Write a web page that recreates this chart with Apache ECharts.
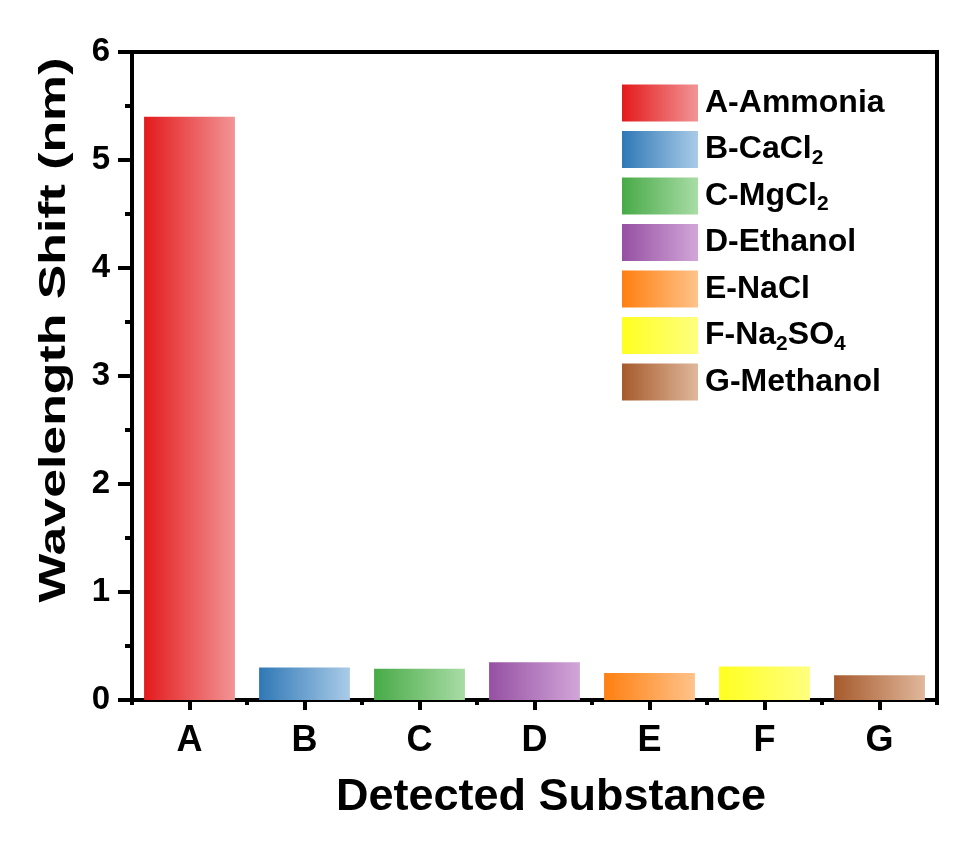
<!DOCTYPE html>
<html>
<head>
<meta charset="utf-8">
<title>Wavelength Shift</title>
<script src="https://cdn.jsdelivr.net/npm/echarts@6/dist/echarts.min.js"></script>
<style>
  html, body { margin: 0; padding: 0; background: #fff; }
  #chart { width: 969px; height: 851px; }
</style>
</head>
<body>
<div id="chart"></div>
<script>
// categories and values
const categories = ['A', 'B', 'C', 'D', 'E', 'F', 'G']
const seriesNames = ['A-Ammonia', 'B-CaCl2', 'C-MgCl2', 'D-Ethanol', 'E-NaCl', 'F-Na2SO4', 'G-Methanol']
const shiftValues = [5.40, 0.30, 0.29, 0.35, 0.25, 0.31, 0.23]
const yTicks = [0, 1, 2, 3, 4, 5, 6]
// gradient ends, dark on left -> light on right
const colorsDark = ['#e31a1c', '#2f78b6', '#48aa47', '#9550a2', '#ff7f10', '#ffff20', '#a65a2c']
const colorsLight = ['#f29596', '#aacbe8', '#a9dca6', '#d2a6d9', '#ffc38a', '#ffff80', '#e0b89c']

const FONT = 'Liberation Sans, Arial, sans-serif'

const chart = echarts.init(document.getElementById('chart'))

const series = seriesNames.map((name, i) => ({
  name: name,
  type: 'bar',
  barWidth: '79%',
  barGap: '-100%',
  itemStyle: {
    color: new echarts.graphic.LinearGradient(0, 0, 1, 0, [
      { offset: 0, color: colorsDark[i] },
      { offset: 1, color: colorsLight[i] }
    ])
  },
  data: categories.map((c, j) => (j === i ? shiftValues[i] : '-'))
}))

const option = {
  backgroundColor: '#fff',
  animation: false,
  textStyle: { fontFamily: FONT },
  grid: {
    left: 132,
    right: 32,
    top: 52,
    bottom: 151,
    show: true,
    borderColor: '#000',
    borderWidth: 4
  },
  // y axis title, stretched along its length like the original figure
  graphic: [
    {
      type: 'text',
      x: 55,
      y: 330,
      rotation: Math.PI / 2,
      scaleX: 1.4,
      style: {
        text: 'Wavelength Shift (nm)',
        font: 'bold 37px ' + FONT,
        fill: '#000',
        align: 'center',
        verticalAlign: 'middle'
      }
    }
  ],
  legend: {
    orient: 'vertical',
    left: 622,
    top: 84,
    padding: 0,
    itemWidth: 76,
    itemHeight: 37,
    itemGap: 8.5,
    icon: 'rect',
    data: seriesNames,
    formatter: function (name) {
      return name.replace(/(\d)/g, '{sub|$1}')
    },
    textStyle: {
      fontFamily: FONT,
      fontWeight: 'bold',
      fontSize: 32,
      color: '#000',
      lineHeight: 38,
      padding: [0, 0, 0, 2],
      rich: {
        sub: {
          fontFamily: FONT,
          fontWeight: 'bold',
          fontSize: 21,
          lineHeight: 20,
          verticalAlign: 'bottom',
          color: '#000'
        }
      }
    }
  },
  xAxis: [
    {
      type: 'category',
      data: categories,
      position: 'bottom',
      boundaryGap: true,
      name: 'Detected Substance',
      nameLocation: 'middle',
      nameGap: 75,
      nameTextStyle: {
        fontFamily: FONT,
        fontWeight: 'bold',
        fontSize: 45,
        color: '#000',
        padding: [0, 0, 0, 33]
      },
      axisLine: { show: true, lineStyle: { color: '#000', width: 4 } },
      axisTick: { show: true, alignWithLabel: true, length: 10, lineStyle: { color: '#000', width: 4 } },
      axisLabel: { margin: 23, fontFamily: FONT, fontWeight: 'bold', fontSize: 36, color: '#000' },
      splitLine: { show: false }
    },
    {
      // boundary (minor) ticks between categories
      type: 'category',
      data: categories,
      position: 'bottom',
      boundaryGap: true,
      axisLine: { show: false },
      axisTick: { show: true, alignWithLabel: false, length: 5, lineStyle: { color: '#000', width: 4 } },
      axisLabel: { show: false },
      splitLine: { show: false }
    }
  ],
  yAxis: {
    type: 'value',
    min: yTicks[0],
    max: yTicks[yTicks.length - 1],
    interval: 1,
    axisLine: { show: true, lineStyle: { color: '#000', width: 4 } },
    axisTick: { show: true, length: 14, lineStyle: { color: '#000', width: 4 } },
    minorTick: { show: true, splitNumber: 2, length: 7, lineStyle: { color: '#000', width: 4 } },
    axisLabel: { margin: 22, fontFamily: FONT, fontWeight: 'bold', fontSize: 33, color: '#000' },
    splitLine: { show: false },
    minorSplitLine: { show: false }
  },
  series: series
}

chart.setOption(option)
window.addEventListener('resize', function () {
  chart.resize()
})
</script>
</body>
</html>
